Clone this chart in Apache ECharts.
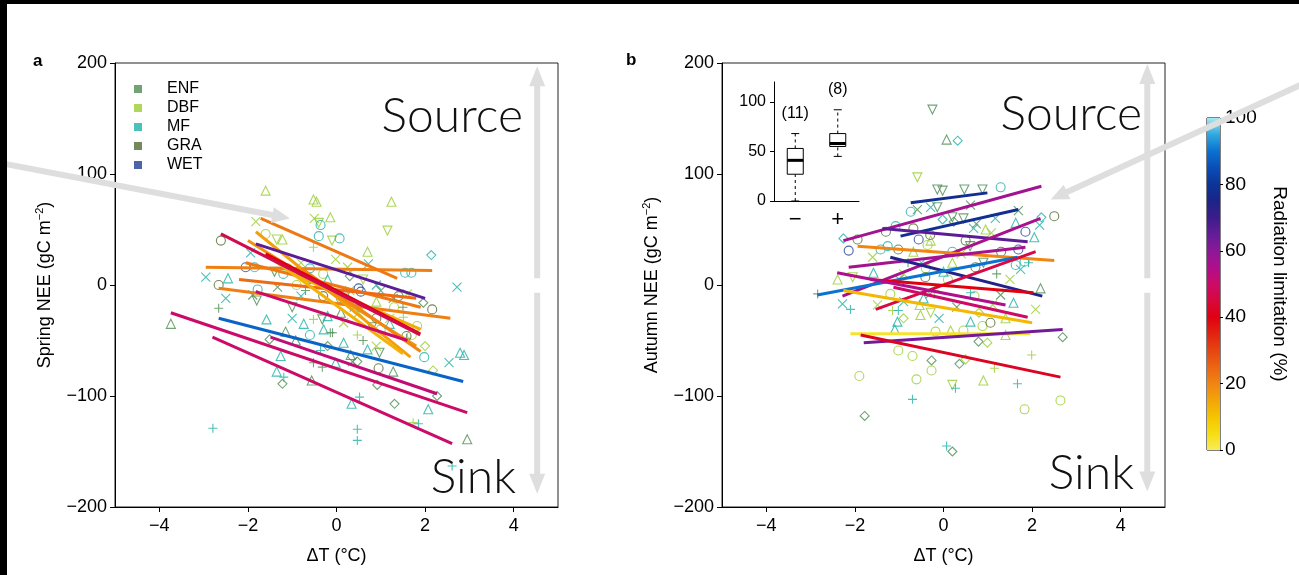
<!DOCTYPE html>
<html><head><meta charset="utf-8">
<script src="https://cdn.jsdelivr.net/npm/echarts@6/dist/echarts.min.js"></script>
<style>html,body{margin:0;padding:0;background:#fff}#c{width:1299px;height:575px}</style>
</head><body><div id="c"></div><script>
// ---------- DATA ----------
const pftNames = ['ENF','DBF','MF','GRA','WET'];
const xTicks = [-4,-2,0,2,4];
const yTicks = [-200,-100,0,100,200];
// spring points [dT, NEE, marker]
const springENF = [[-3.74,-35,'t'],[-2.66,-21,'+'],[-1.8,-14,'v'],[-1.89,-9,'x'],[-0.14,-43,'+'],[-0.32,-31,'v'],[1.96,-16,'d'],[1.28,-12,'x'],[-1.22,-89,'d'],[-1.51,-49,'d'],[-1.15,-42,'t'],[-0.56,-86,'t'],[-0.52,-70,'+'],[-0.32,-74,'+'],[-0.09,-43,'+'],[1.31,-107,'d'],[2.95,-139,'t'],[2.27,-100,'d'],[1.28,-78,'t'],[0.92,-90,'d'],[0.97,-61,'v'],[0.36,-69,'x'],[0.47,-69,'d'],[0.32,-63,'t'],[1.58,-48,'+'],[-0.92,-50,'t'],[-1.33,-2,'x'],[0.5,-20,'+'],[0.2,-10,'v'],[-0.6,5,'d'],[1.0,-5,'x'],[0.8,-38,'v'],[-0.2,-55,'d'],[0.6,-50,'+'],[0.1,-25,'t'],[1.5,-20,'+'],[-1.0,-20,'v'],[-0.7,-5,'+'],[0.3,8,'d'],[-1.4,12,'v']];
const springDBF = [[-1.6,85,'t'],[-0.52,77,'t'],[-0.45,75,'t'],[1.24,75,'t'],[-1.82,57,'x'],[-0.4,56,'v'],[-0.14,61,'t'],[1.15,49,'v'],[-1.6,46,'o'],[-1.35,41,'v'],[-1.22,41,'t'],[-0.52,34,'+'],[-0.02,23,'x'],[0.25,16,'x'],[-0.52,-31,'+'],[0.47,-45,'+'],[1.82,-37,'o'],[1.51,-29,'+'],[2.18,-77,'d'],[0.9,-55,'x'],[0.16,-34,'x'],[1.73,-124,'+'],[-0.8,20,'x'],[-0.3,10,'o'],[0.6,5,'v'],[0.9,-15,'t'],[1.2,-30,'x'],[1.7,-45,'o'],[-1.1,15,'o'],[0.3,-5,'x'],[-0.1,40,'v'],[0.7,30,'t'],[1.6,-8,'x'],[2.0,-55,'d'],[1.0,-40,'o'],[-0.5,60,'x'],[-0.9,0,'o'],[0.5,-25,'x'],[1.3,-20,'o']];
const springMF = [[-0.36,54,'o'],[0.07,42,'o'],[-0.4,44,'o'],[-1.94,29,'x'],[2.14,27,'d'],[-1.85,16,'o'],[-2.95,7,'x'],[-2.45,6,'t'],[-1.78,-4,'o'],[1.55,11,'o'],[1.69,11,'o'],[0.72,19,'x'],[-2.5,-12,'x'],[-1.58,-31,'t'],[-0.74,-35,'t'],[1.98,-65,'o'],[-1.26,-64,'t'],[-1.35,-78,'t'],[-1.19,-83,'+'],[-0.29,-40,'t'],[0.16,-52,'t'],[0.34,-107,'t'],[0.52,-101,'+'],[2.07,-112,'t'],[-2.79,-129,'+'],[0.47,-130,'+'],[0.47,-140,'+'],[1.85,-125,'+'],[2.61,-163,'+'],[2.79,-61,'t'],[2.88,-63,'t'],[2.54,-70,'x'],[0.7,-58,'t'],[-0.02,-70,'t'],[-0.36,-59,'+'],[2.72,-2,'x'],[-0.8,-10,'x'],[-0.2,-28,'t'],[0.4,-20,'x'],[-1.2,10,'o'],[0.9,0,'x'],[-0.6,-45,'o'],[-0.6,15,'o'],[-0.2,5,'t'],[0.1,-12,'o'],[-1.0,-30,'x'],[1.2,-35,'t']];
const springGRA = [[-2.61,40,'o'],[-2.66,0,'o'],[2.16,-22,'o'],[0.95,-75,'o'],[1.58,-46,'o'],[-0.3,-10,'o'],[0.9,-30,'o'],[1.4,-10,'o']];
const springWET = [[-2.05,16,'o'],[0.5,-3,'o'],[0.55,-6,'o']];
// autumn points
const autumnENF = [[-0.25,158,'v'],[0.07,131,'t'],[-0.14,86,'v'],[-0.02,85,'v'],[0.47,86,'v'],[0.88,86,'v'],[-0.59,68,'x'],[-0.14,70,'v'],[0.61,72,'x'],[0.2,61,'v'],[0.23,57,'d'],[0.45,60,'v'],[0.74,55,'x'],[1.69,67,'x'],[2.19,-3,'t'],[1.29,-9,'x'],[-2.84,-8,'+'],[2.69,-47,'d'],[0.79,-51,'d'],[-0.27,-68,'d'],[0.36,-71,'d'],[-1.78,-118,'d'],[0.2,-150,'d'],[0.3,-20,'x'],[-0.8,20,'+'],[0.6,35,'v'],[1.2,10,'+'],[-0.3,-8,'x'],[-1.0,5,'x'],[0.9,20,'v']];
const autumnDBF = [[-0.59,97,'v'],[0.95,50,'t'],[1.08,47,'x'],[-0.29,40,'t'],[-0.36,36,'o'],[-0.68,30,'t'],[0.2,20,'t'],[-2.39,5,'t'],[-2.05,7,'v'],[2.08,-22,'x'],[1.11,-18,'x'],[0.88,-37,'o'],[-1.15,-23,'+'],[-0.9,-30,'d'],[-0.52,-27,'t'],[-0.29,-25,'v'],[-0.54,-18,'t'],[-1.49,-18,'x'],[1.4,-30,'t'],[0.16,-41,'t'],[0.45,-41,'o'],[-0.18,-42,'o'],[0.99,-52,'d'],[1.4,-45,'t'],[-1.02,-59,'o'],[-0.7,-64,'o'],[0.5,-67,'d'],[-0.27,-77,'o'],[-1.9,-82,'o'],[-0.61,-85,'o'],[0.2,-90,'v'],[0.9,-86,'t'],[1.15,-75,'+'],[1.99,-63,'+'],[2.64,-104,'o'],[1.83,-112,'o'],[-0.9,10,'x'],[0.1,5,'o'],[0.4,28,'x'],[-1.6,25,'x'],[1.5,5,'x'],[-0.2,-5,'+'],[0.7,-10,'o'],[-0.4,15,'o'],[0.8,-25,'d'],[-1.2,-8,'o']];
const autumnMF = [[1.29,88,'o'],[0.32,130,'d'],[-0.74,66,'o'],[-0.29,70,'x'],[-0.02,59,'d'],[0.68,51,'x'],[1.17,60,'x'],[2.21,61,'d'],[2.17,54,'x'],[1.63,56,'t'],[2.05,43,'t'],[-2.26,42,'d'],[-1.08,53,'o'],[-1.26,35,'o'],[-1.42,32,'o'],[1.63,18,'o'],[1.83,21,'o'],[1.92,20,'+'],[1.74,14,'x'],[-1.58,11,'t'],[-0.45,-12,'t'],[-2.28,-17,'x'],[-2.1,-22,'+'],[0.61,-7,'+'],[1.58,-16,'t'],[0.61,-33,'t'],[-1.04,-33,'t'],[-1.02,-23,'+'],[0.27,-93,'+'],[1.67,-89,'+'],[-0.7,-103,'+'],[0.07,-145,'+'],[-0.5,20,'x'],[0.2,30,'o'],[-1.1,-40,'t'],[-0.9,-15,'x'],[0.0,12,'t'],[-0.1,-30,'x']];
const autumnGRA = [[2.5,62,'o'],[-1.94,41,'o'],[-0.68,51,'o'],[-1.02,32,'o'],[0.72,16,'o'],[-0.41,7,'o'],[1.06,-34,'o'],[-0.3,45,'o'],[0.5,40,'o'],[1.3,30,'o'],[-1.3,48,'o']];
const autumnWET = [[1.85,48,'o'],[-2.14,31,'o'],[-0.56,41,'o'],[1.69,32,'o']];
// regression lines [x1, y1, x2, y2, radiation limitation %]
const springLines = [[-2.95,16,2.16,13,21],[-2.66,-3,2.57,-30,21],[-2.05,20,1.9,-20,22],[-1.71,60,1.37,6,22],[-2.2,5,1.8,-12,24],[-1.82,48,1.67,-65,16],[-2.0,40,1.8,-55,18],[-1.0,10,1.9,-40,14],[-1.5,25,1.5,-62,13],[-0.8,15,1.9,-60,20],[-1.6,28,1.89,-44,40],[-2.61,46,1.89,-45,47],[-1.82,37,2.0,-12,66],[-1.82,-6,1.6,-50,50],[-2.66,-30,2.86,-87,88],[-3.74,-25,2.95,-115,50],[-2.8,-47,2.61,-143,50],[-1.49,-47,2.27,-98,52]];
const autumnLines = [[-0.74,74,0.99,83,78],[-2.26,40,2.21,89,57],[-0.97,44,1.69,68,78],[-1.38,51,1.9,39,66],[-2.28,-10,2.19,60,56],[-1.94,35,2.5,22,20],[-2.14,16,1.85,34,57],[-1.2,25,2.23,-10,74],[-2.85,-9,1.67,25,90],[-1.53,-22,2.08,30,46],[-1.65,5,2.03,-7,40],[-2.4,11,1.4,-18,55],[-2.26,-5,2.0,-34,12],[-1.13,-2,1.9,-29,50],[-2.1,-44,1.96,-44,3],[-1.8,-52,2.69,-40,63],[-1.87,-45,2.64,-83,42]];
// inset boxplot: [low, q1, median, q3, high], n
const insetCats = ['\u2212','+'];
const insetBoxes = [[0,27,41,53,68],[45,55,58,68,92]];
const insetN = [11,8];
const insetTicks = [0,50,100];
const cbarTicks = [0,20,40,60,80,100];

// ---------- STYLE ----------
const pftColors = {ENF:'#4d8c52',DBF:'#9acd32',MF:'#1fb0a8',GRA:'#556b2f',WET:'#1f3f93'};
const SYM = {t:'triangle', v:'path://M0,0L10,0L5,8.66Z', o:'circle', d:'diamond',
  x:'path://M0,0L10,10M10,0L0,10', '+':'path://M5,0L5,10M0,5L10,5'};
const cmapStops = [[0,'#f8ec58'],[5,'#f6dd10'],[10,'#f5c400'],[15,'#f3a508'],[20,'#f08512'],[25,'#ec6512'],[30,'#e64512'],[35,'#e22310'],[40,'#e00010'],[45,'#d8083c'],[50,'#cc0a68'],[55,'#b00e8c'],[60,'#8c1898'],[65,'#641c98'],[70,'#3c1c8c'],[75,'#1c2488'],[80,'#0c3498'],[85,'#0a4eb8'],[90,'#0a72d0'],[95,'#30a8e0'],[100,'#a8e8f2']];
function hex2rgb(h){return [1,3,5].map(i=>parseInt(h.substr(i,2),16));}
function cmap(v){
  for(let i=0;i<cmapStops.length-1;i++){
    const [a,ca]=cmapStops[i],[b,cb]=cmapStops[i+1];
    if(v>=a&&v<=b){const t=(v-a)/(b-a);const A=hex2rgb(ca),B=hex2rgb(cb);
      return 'rgb('+A.map((x,k)=>Math.round(x+(B[k]-x)*t)).join(',')+')';}
  }
  return cmapStops[cmapStops.length-1][1];
}
const FONT = "'Liberation Sans', Arial, Helvetica, sans-serif";
const minus = v => String(v).replace('-', '\u2212');

const chart = echarts.init(document.getElementById('c'), null, {renderer:'canvas'});

function mainGrid(left){ return {left:left, top:63, width:443, height:444, show:true, borderColor:'#222', borderWidth:1, containLabel:false}; }
function xAx(g){ return {type:'value', gridIndex:g, min:-5, max:5, name:'\u0394T (\u00b0C)', nameLocation:'middle', nameGap:40,
  nameTextStyle:{fontFamily:FONT, fontSize:18, color:'#000'},
  axisLine:{show:true, onZero:false, lineStyle:{color:'#000', width:1}},
  axisTick:{show:true, length:5, customValues:xTicks, lineStyle:{color:'#000'}},
  axisLabel:{customValues:xTicks, fontFamily:FONT, fontSize:18, color:'#000', margin:10, formatter:minus},
  splitLine:{show:false}}; }
function yAx(g, title){ return {type:'value', gridIndex:g, min:-200, max:200, interval:100,
  name:'{a|'+title+' (gC m}{s|\u22122}{a|)}', nameLocation:'middle', nameGap:58, nameRotate:90,
  nameTextStyle:{rich:{a:{fontFamily:FONT, fontSize:18, color:'#000'}, s:{fontFamily:FONT, fontSize:11, color:'#000', padding:[0,0,12,0]}}},
  axisLine:{show:true, onZero:false, lineStyle:{color:'#000', width:1}},
  axisTick:{show:true, length:5, lineStyle:{color:'#000'}},
  axisLabel:{fontFamily:FONT, fontSize:18, color:'#000', margin:8, formatter:minus},
  splitLine:{show:false}}; }

const series = [];
function addPoints(list, name, g){
  series.push({type:'scatter', name:name, xAxisIndex:g, yAxisIndex:g, symbolSize:9, z:2,
    data:list.map(p=>({value:[p[0],p[1]], symbol:SYM[p[2]]})),
    itemStyle:{color:'transparent', borderColor:pftColors[name], borderWidth:1.1}, silent:true});
}
addPoints(springENF,'ENF',0); addPoints(springDBF,'DBF',0); addPoints(springMF,'MF',0); addPoints(springGRA,'GRA',0); addPoints(springWET,'WET',0);
addPoints(autumnENF,'ENF',1); addPoints(autumnDBF,'DBF',1); addPoints(autumnMF,'MF',1); addPoints(autumnGRA,'GRA',1); addPoints(autumnWET,'WET',1);
function addLines(list, g){
  list.forEach(l=>series.push({type:'line', xAxisIndex:g, yAxisIndex:g, symbol:'none', silent:true, z:3,
    data:[[l[0],l[1]],[l[2],l[3]]], lineStyle:{color:cmap(l[4]), width:3}}));
}
addLines(springLines,0); addLines(autumnLines,1);

// inset boxplot (custom)
series.push({type:'custom', xAxisIndex:2, yAxisIndex:2, silent:true, z:4,
  data: insetBoxes.map((b,i)=>[i].concat(b).concat([insetN[i]])),
  renderItem:(params, api)=>{
    const i=api.value(0);
    const P=v=>api.coord([i,v]);
    const lo=P(api.value(1)), q1=P(api.value(2)), md=P(api.value(3)), q3=P(api.value(4)), hi=P(api.value(5));
    const cx=lo[0], bw=16, cw=8;
    const ls={stroke:'#000', lineWidth:1};
    const dash={stroke:'#000', lineWidth:1, lineDash:[3,3]};
    return {type:'group', children:[
      {type:'line', shape:{x1:cx,y1:lo[1],x2:cx,y2:q1[1]}, style:dash},
      {type:'line', shape:{x1:cx,y1:q3[1],x2:cx,y2:hi[1]}, style:dash},
      {type:'line', shape:{x1:cx-cw/2,y1:lo[1],x2:cx+cw/2,y2:lo[1]}, style:ls},
      {type:'line', shape:{x1:cx-cw/2,y1:hi[1],x2:cx+cw/2,y2:hi[1]}, style:ls},
      {type:'rect', shape:{x:cx-bw/2,y:q3[1],width:bw,height:q1[1]-q3[1]}, style:{fill:'#fff', stroke:'#000', lineWidth:1}},
      {type:'line', shape:{x1:cx-bw/2,y1:md[1],x2:cx+bw/2,y2:md[1]}, style:{stroke:'#000', lineWidth:3}},
      {type:'text', x:cx, y:hi[1]-12, style:{text:'('+api.value(6)+')', fontFamily:FONT, fontSize:16, fill:'#000', align:'center', verticalAlign:'bottom'}}
    ]};
  }});

// colour bar
const gradStops = cmapStops.map(s=>({offset:s[0]/100, color:s[1]}));
series.push({type:'bar', xAxisIndex:3, yAxisIndex:3, data:[100], barWidth:'100%', silent:true,
  itemStyle:{color:new echarts.graphic.LinearGradient(0,1,0,0,gradStops)}});

const option = {
  animation:false, backgroundColor:'#fff',
  grid:[mainGrid(115), mainGrid(722),
        {left:774, top:82, width:85, height:119, show:false},
        {left:1207, top:118, width:13, height:332, show:true, borderColor:'#000', borderWidth:1}],
  xAxis:[xAx(0), xAx(1),
    {type:'category', gridIndex:2, data:insetCats, axisLine:{lineStyle:{color:'#000'}},
     axisTick:{alignWithLabel:true, length:5, lineStyle:{color:'#000'}},
     axisLabel:{fontFamily:FONT, fontSize:22, color:'#000', margin:8}},
    {type:'category', gridIndex:3, data:['c'], show:false}],
  yAxis:[yAx(0,'Spring NEE'), yAx(1,'Autumn NEE'),
    {type:'value', gridIndex:2, min:0, max:120, axisLine:{show:true, lineStyle:{color:'#000'}},
     axisTick:{show:true, length:4, customValues:insetTicks, lineStyle:{color:'#000'}},
     axisLabel:{customValues:insetTicks, fontFamily:FONT, fontSize:16, color:'#000', margin:8}, splitLine:{show:false}},
    {type:'value', gridIndex:3, min:0, max:100, interval:20, position:'right',
     name:'Radiation limitation (%)', nameLocation:'middle', nameRotate:-90, nameGap:50,
     nameTextStyle:{fontFamily:FONT, fontSize:19, color:'#000'},
     axisLine:{show:false}, axisTick:{show:true, length:3, lineStyle:{color:'#000'}},
     axisLabel:{fontFamily:FONT, fontSize:19, color:'#000', margin:5}, splitLine:{show:false}}],
  legend:{orient:'vertical', left:129, top:76, itemWidth:8, itemHeight:8, itemGap:3, selectedMode:false,
    textStyle:{fontFamily:FONT, fontSize:16, color:'#000', lineHeight:16, padding:[0,0,0,20]},
    data:pftNames.map(n=>({name:n, icon:'rect', itemStyle:{color:pftColors[n], borderWidth:0}}))},
  series:series
};
chart.setOption(option);

// ---------- annotations ----------
function arrowPts(p1,p2,sw,hl,hw){
  const dx=p2[0]-p1[0], dy=p2[1]-p1[1], L=Math.hypot(dx,dy), ux=dx/L, uy=dy/L, nx=-uy, ny=ux;
  const bx=p2[0]-ux*hl, by=p2[1]-uy*hl;
  return [[p1[0]+nx*sw/2,p1[1]+ny*sw/2],[bx+nx*sw/2,by+ny*sw/2],[bx+nx*hw/2,by+ny*hw/2],p2,
          [bx-nx*hw/2,by-ny*hw/2],[bx-nx*sw/2,by-ny*sw/2],[p1[0]-nx*sw/2,p1[1]-ny*sw/2]];
}
const px=(g,v)=>chart.convertToPixel({gridIndex:g},v);
const gray='#dedede';
const arrows=[
  arrowPts(px(0,[4.53,6]),px(0,[4.53,197]),6,20,16),
  arrowPts(px(0,[4.53,-7]),px(0,[4.53,-188]),6,20,16),
  arrowPts(px(1,[4.6,6]),px(1,[4.6,199]),6,20,16),
  arrowPts(px(1,[4.6,-7]),px(1,[4.6,-186]),6,20,16)
];
const diag=[
  arrowPts(px(0,[-7.6,110]),px(0,[-1.05,60]),6,18,16),
  arrowPts(px(1,[8.1,181]),px(1,[2.42,77]),6,18,16)
];
const big = {fontFamily:"'Lato', 'Open Sans', sans-serif", fontWeight:300, fontSize:48, fill:'#111'};
const graphic=[
  ...arrows.map(p=>({type:'polygon', shape:{points:p}, style:{fill:gray}, z:1, silent:true})),
  ...diag.map(p=>({type:'polygon', shape:{points:p}, style:{fill:gray}, z:100, silent:true})),
  {type:'text', x:523, y:117, z:50, style:Object.assign({text:'Source', align:'right', verticalAlign:'middle'},big)},
  {type:'text', x:516, y:478, z:50, style:Object.assign({text:'Sink', align:'right', verticalAlign:'middle'},big)},
  {type:'text', x:1142, y:115, z:50, style:Object.assign({text:'Source', align:'right', verticalAlign:'middle'},big)},
  {type:'text', x:1134, y:474, z:50, style:Object.assign({text:'Sink', align:'right', verticalAlign:'middle'},big)},
  {type:'text', x:33, y:61, z:50, style:{text:'a', fontFamily:FONT, fontWeight:'bold', fontSize:17, fill:'#000', verticalAlign:'middle'}},
  {type:'text', x:626, y:60, z:50, style:{text:'b', fontFamily:FONT, fontWeight:'bold', fontSize:17, fill:'#000', verticalAlign:'middle'}},
  {type:'rect', shape:{x:0,y:0,width:1299,height:4}, style:{fill:'#000'}, z:200, silent:true},
  {type:'rect', shape:{x:0,y:0,width:7,height:575}, style:{fill:'#000'}, z:200, silent:true}
];
chart.setOption({graphic:graphic});
</script></body></html>
